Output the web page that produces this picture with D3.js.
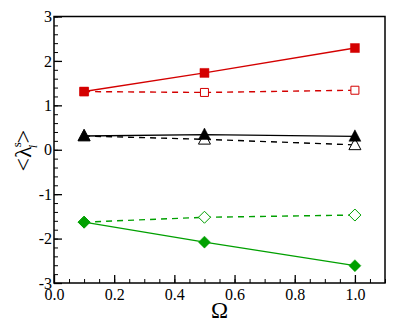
<!DOCTYPE html>
<html>
<head>
<meta charset="utf-8">
<script src="https://cdn.jsdelivr.net/npm/d3@7"></script>
<style>
  body { margin: 0; background: #fff; }
</style>
</head>
<body>
<div class="chart"></div>
<script>
const omega = [0.1, 0.5, 1.0];

const redFilled = [1.31, 1.73, 2.29];
const redOpen = [1.31, 1.29, 1.34];
const blackFilled = [0.31, 0.34, 0.30];
const blackOpen = [0.31, 0.235, 0.11];
const greenFilled = [-1.63, -2.08, -2.61];
const greenOpen = [-1.63, -1.52, -1.47];

const xTicks = [0, 0.2, 0.4, 0.6, 0.8, 1.0];
const yTicks = [-3, -2, -1, 0, 1, 2, 3];

const series = [
    { values: redFilled, color: "#d40000", dash: null, shape: "square", fill: true },
    { values: redOpen, color: "#d40000", dash: "6,5", shape: "square", fill: false },
    { values: blackFilled, color: "#000", dash: null, shape: "triangle", fill: true },
    { values: blackOpen, color: "#000", dash: "6,5", shape: "triangle", fill: false },
    { values: greenFilled, color: "#00a000", dash: null, shape: "diamond", fill: true },
    { values: greenOpen, color: "#00a000", dash: "6,5", shape: "diamond", fill: false }
];

const width = 415, height = 323;
const margin = { left: 54, right: 30, top: 16.5, bottom: 40 };
const serif = "Liberation Serif";

const svg = d3.select(".chart").append("svg")
    .attr("width", width)
    .attr("height", height)
    .attr("font-family", serif);

const x = d3.scaleLinear().domain([0, 1.1]).range([margin.left, width - margin.right]);
const y = d3.scaleLinear().domain([-3, 3]).range([height - margin.bottom, margin.top]);

// minor ticks
const xMinor = d3.range(0, 1.1001, 0.05);
const yMinor = d3.range(-3, 3.0001, 0.2);

svg.append("g")
    .attr("transform", "translate(0," + y(-3) + ")")
    .call(d3.axisBottom(x).tickValues(xMinor).tickSize(-4).tickFormat(""))
    .call(g => g.select(".domain").remove())
    .selectAll("line").attr("stroke", "#000");

svg.append("g")
    .attr("transform", "translate(" + x(0) + ",0)")
    .call(d3.axisLeft(y).tickValues(yMinor).tickSize(-4).tickFormat(""))
    .call(g => g.select(".domain").remove())
    .selectAll("line").attr("stroke", "#000");

const xAxis = svg.append("g")
    .attr("transform", "translate(0," + y(-3) + ")")
    .call(d3.axisBottom(x).tickValues(xTicks).tickSize(-8).tickPadding(3)
        .tickFormat(d3.format(".1f")));
xAxis.attr("font-family", serif).attr("font-size", 16);
xAxis.select(".domain").remove();
xAxis.selectAll("line").attr("stroke", "#000").attr("stroke-width", 1.3);
xAxis.selectAll("text").attr("fill", "#000").attr("dy", "0.9em");

const yAxis = svg.append("g")
    .attr("transform", "translate(" + x(0) + ",0)")
    .call(d3.axisLeft(y).tickValues(yTicks).tickSize(-8).tickPadding(2)
        .tickFormat(d => d));
yAxis.attr("font-family", serif).attr("font-size", 16);
yAxis.select(".domain").remove();
yAxis.selectAll("line").attr("stroke", "#000").attr("stroke-width", 1.3);
yAxis.selectAll("text").attr("fill", "#000");

// frame
svg.append("rect")
    .attr("x", x(0))
    .attr("y", y(3))
    .attr("width", x(1.1) - x(0))
    .attr("height", y(-3) - y(3))
    .attr("fill", "none")
    .attr("stroke", "#000")
    .attr("stroke-width", 1.5);

const line = d3.line()
    .x((d, i) => x(omega[i]))
    .y(d => y(d));

const symbolPath = function (shape, fill) {
    if (shape === "square") {
        const s = fill ? 9 : 8;
        return "M" + (-s / 2) + "," + (-s / 2) + "h" + s + "v" + s + "h" + (-s) + "Z";
    }
    if (shape === "triangle") {
        const s = 12;
        return "M0," + (-s * 0.55) + "L" + (s / 2) + "," + (s * 0.4) + "L" + (-s / 2) + "," + (s * 0.4) + "Z";
    }
    const r = 6;
    return "M0," + (-r) + "L" + r + ",0L0," + r + "L" + (-r) + ",0Z";
};

// dashed lines first, then solid lines on top
const order = [1, 3, 5, 0, 2, 4];
order.forEach(function (k) {
    const s = series[k];
    const g = svg.append("g");
    g.append("path")
        .datum(s.values)
        .attr("d", line)
        .attr("fill", "none")
        .attr("stroke", s.color)
        .attr("stroke-width", 1.4)
        .attr("stroke-dasharray", s.dash);
    g.selectAll("path.mark")
        .data(s.values)
        .enter().append("path")
        .attr("class", "mark")
        .attr("transform", (d, i) => "translate(" + x(omega[i]) + "," + y(d) + ")")
        .attr("d", symbolPath(s.shape, s.fill))
        .attr("fill", s.fill ? s.color : "#fff")
        .attr("stroke", s.color)
        .attr("stroke-width", s.fill ? 0.5 : 1);
});

// axis titles
svg.append("text")
    .attr("x", x(0.55))
    .attr("y", 318)
    .attr("text-anchor", "middle")
    .attr("font-size", 23)
    .text("Ω");

const yl = svg.append("text")
    .attr("transform", "translate(31," + (y(0) + 1) + ") rotate(-90)")
    .attr("text-anchor", "middle")
    .attr("font-size", 24);
yl.append("tspan").text("<λ");
yl.append("tspan").attr("font-size", 13).attr("dy", -10).attr("dx", -1).text("s");
yl.append("tspan").attr("font-size", 13).attr("dy", 16).attr("dx", -6).style("font-style", "italic").text("i");
yl.append("tspan").attr("dy", -6).attr("dx", 1).text(">");
</script>
</body>
</html>
